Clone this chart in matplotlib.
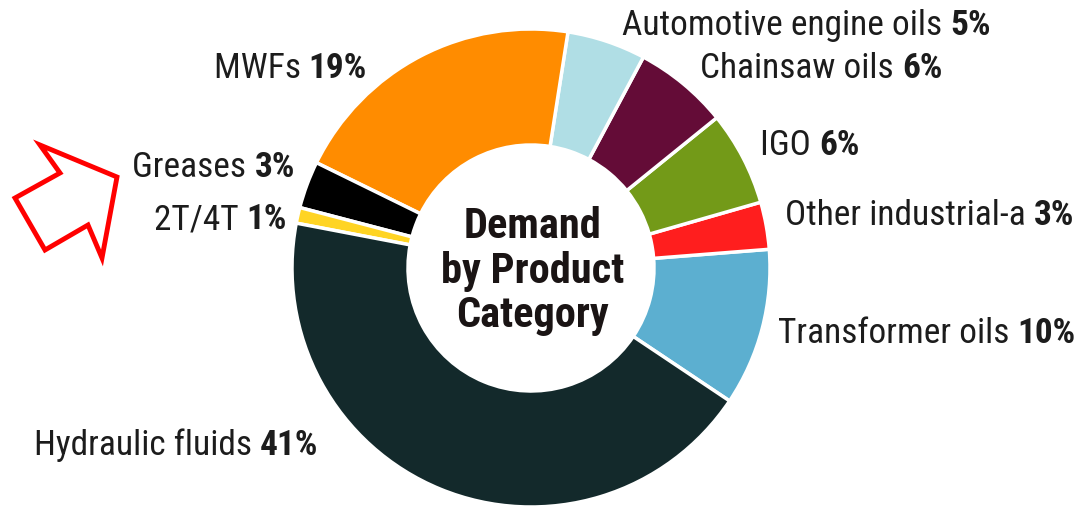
import matplotlib
matplotlib.use("Agg")
import matplotlib.pyplot as plt
from matplotlib import font_manager
from matplotlib.patches import Polygon

# demand share by product category (%), counter-clockwise from the transformer oils wedge
categories = ["Transformer oils", "Other industrial-a", "IGO", "Chainsaw oils",
              "Automotive engine oils", "MWFs", "Greases", "2T/4T", "Hydraulic fluids"]
shares = [10, 3, 6, 6, 5, 19, 3, 1, 41]
colors = ["#5cafd0", "#ff1e1e", "#739a18", "#640c37", "#b0dee5",
          "#ff8c00", "#000000", "#ffd424", "#13292b"]

# label placement: (x, baseline y, anchored side) in pixels from the top left
label_pos = {
    "Transformer oils": (778, 343, "left"),
    "Other industrial-a": (785, 225, "left"),
    "IGO": (760, 155, "left"),
    "Chainsaw oils": (700, 78, "left"),
    "Automotive engine oils": (622, 35, "left"),
    "MWFs": (367, 78, "right"),
    "Greases": (295, 177, "right"),
    "2T/4T": (287, 229, "right"),
    "Hydraulic fluids": (318, 455, "right"),
}

# pick a narrow face if there is one
installed = {f.name for f in font_manager.fontManager.ttflist}
font, size, title_size = "DejaVu Sans", 18, 24
for name, s, ts in [("Roboto Condensed", 25.5, 30.5), ("Liberation Sans Narrow", 25.5, 30.5),
                    ("Roboto", 21, 26)]:
    if name in installed:
        font, size, title_size = name, s, ts
        break
plt.rcParams["font.family"] = [font, "DejaVu Sans"]

W, H = 1079, 508
fig = plt.figure(figsize=(W / 100, H / 100), dpi=100)
ax = fig.add_axes([0, 0, 1, 1])

cx, cy, r = 531, H - 268, 239
ax.pie(shares, colors=colors, startangle=-33.8, counterclock=True,
       radius=r, center=(cx, cy),
       wedgeprops=dict(width=116, edgecolor="white", linewidth=2.5))
ax.set_xlim(0, W)
ax.set_ylim(0, H)
ax.set_aspect("equal")
ax.axis("off")

ax.text(cx + 2, cy - 3, "Demand\nby Product\nCategory", ha="center", va="center",
        fontsize=title_size, fontweight="heavy", color="#1a1414", linespacing=1.12)

txt_color = "#1c1c1c"
for cat, val in zip(categories, shares):
    x, y, side = label_pos[cat]
    pct = "%d%%" % val
    if side == "left":
        t = ax.text(x, H - y, cat + " ", ha="left", va="baseline",
                    fontsize=size, color=txt_color)
        ax.annotate(pct, xy=(1, 0), xycoords=t, ha="left", va="bottom",
                    fontsize=size, fontweight="bold", color=txt_color)
    else:
        t = ax.text(x, H - y, pct, ha="right", va="baseline",
                    fontsize=size, fontweight="bold", color=txt_color)
        ax.annotate(cat + " ", xy=(0, 0), xycoords=t, ha="right", va="bottom",
                    fontsize=size, color=txt_color)

# hollow red arrow pointing at the small wedges
arrow_pts = [(40, 145), (117, 177), (102, 258), (88, 225), (45, 250), (15, 198), (60, 173)]
ax.add_patch(Polygon([(px, H - py) for px, py in arrow_pts], closed=True,
                     facecolor="white", edgecolor="#ff0000", linewidth=3.5,
                     joinstyle="miter"))

fig.savefig("out.png", dpi=100)
